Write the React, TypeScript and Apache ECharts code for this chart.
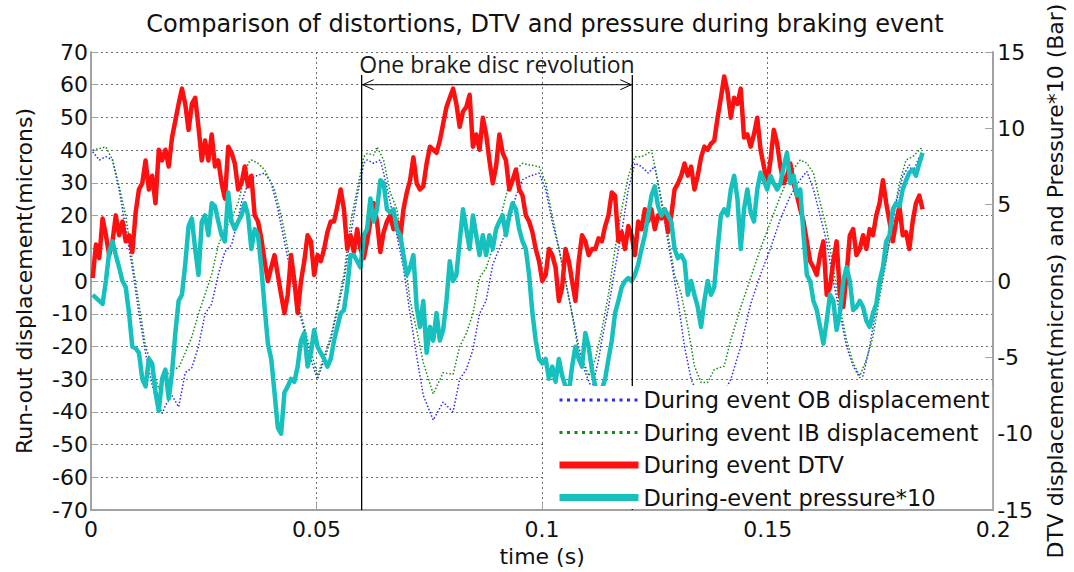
import { useEffect, useRef } from "react";
import * as echarts from "echarts";

// Sampling of the recorded channels: sample n is taken at T0 + n * DT seconds.
const T0 = 0.00037;
const DT = 0.000733;

const X_TICKS = { min: 0, max: 0.2, interval: 0.05 };
const LEFT_TICKS = { min: -70, max: 70, interval: 10 };
const RIGHT_TICKS = { min: -15, max: 15, interval: 5 };

const SERIES_NAMES = [
  "During event OB displacement",
  "During event IB displacement",
  "During event DTV",
  "During-event pressure*10",
];

// Outboard run-out displacement (microns): [sample index, value]
const OB_SAMPLES: [number, number][] = [
  [0, 39.5], [2, 37], [4, 38], [6, 37], [8, 28], [10, 16], [12, 4], [14, -10], [16, -22], [18, -32],
  [21, -40.5], [22, -38], [24, -35], [26, -38.5], [28, -28], [30, -26.5], [32, -20], [34, -10], [36, -7],
  [38, 2], [40, 9], [42, 11], [44, 19], [45, 24], [47, 30], [49, 32], [52, 33], [54, 30], [56, 22],
  [58, 12], [60, 2], [62, -8], [64, -15], [66, -24], [68, -30], [70, -24], [72, -18], [74, -9], [76, 0],
  [78, 14], [80, 26], [82, 36], [83, 37], [85, 36], [87, 37], [88, 33], [90, 24], [92, 14], [94, 4],
  [96, -10], [98, -23], [100, -35], [103, -42.5], [106, -37], [109, -40], [111, -30], [113, -27],
  [115, -21], [117, -10], [119, -6], [121, 5], [123, 10], [126, 18], [128, 26], [130, 31], [132, 32],
  [135, 33], [137, 28], [139, 18], [141, 10], [143, 0], [145, -10], [147, -20], [149, -28], [151, -33],
  [153, -24], [154, -18], [156, -8], [158, 4], [160, 15], [162, 28], [164, 36], [166, 35], [168, 33],
  [170, 35], [171, 30], [173, 18], [175, 6], [177, -6], [179, -20], [181, -30], [184, -37], [188, -38],
  [191, -34], [193, -30], [196, -20], [199, -7], [202, 2], [205, 10], [208, 19], [211, 26], [214, 31],
  [216, 33.5], [218, 28], [220, 20], [222, 12], [224, 0], [226, -10], [228, -20], [230, -26],
  [232, -29.5], [233, -29], [235, -20], [237, -8], [239, 2], [241, 12], [243, 24], [245, 32],
  [247, 35.5], [248, 33], [250, 38],
];

// Inboard run-out displacement (microns): [sample index, value]
const IB_SAMPLES: [number, number][] = [
  [0, 40], [2, 40.5], [4, 41], [6, 37], [8, 29], [10, 20], [12, 6], [14, -7], [16, -20], [18, -26],
  [20, -33], [22, -29], [24, -27], [26, -26.5], [28, -22], [30, -17], [32, -10], [34, -4], [36, 2],
  [38, 11], [40, 16], [42, 19], [44, 24], [46, 32], [47, 36], [48, 37], [50, 36], [52, 34], [54, 30],
  [55, 28], [57, 20], [59, 10], [61, 0], [63, -10], [65, -18], [67, -25], [68, -29], [70, -23],
  [72, -17], [74, -8], [76, 2], [78, 18], [80, 28], [82, 38], [83, 39], [85, 38.5], [86, 41], [88, 37],
  [90, 27], [92, 22], [94, 10], [96, -6], [98, -15], [100, -25], [103, -34.5], [106, -28], [109, -28.5],
  [111, -20], [113, -16], [115, -10], [117, 1], [119, 4], [121, 10], [124, 22], [126, 30], [128, 34],
  [130, 36], [132, 35.5], [135, 35], [137, 30], [139, 20], [141, 10], [143, 0], [145, -10], [147, -22],
  [149, -26], [150, -29], [152, -24], [154, -15], [156, -4], [158, 10], [160, 22], [162, 32], [164, 38],
  [166, 38], [168, 39], [169, 40], [170, 35], [172, 25], [174, 14], [176, 2], [178, -4], [180, -14],
  [182, -26], [184, -31], [186, -31], [188, -27], [191, -26], [193, -18], [196, -8], [199, 1], [202, 10],
  [205, 18], [208, 26], [211, 33], [214, 37], [216, 36], [218, 33], [220, 24], [222, 16], [224, 4],
  [226, -8], [228, -18], [230, -25], [232, -29], [234, -24], [236, -17], [238, -5], [240, 6], [242, 19],
  [244, 30], [246, 37], [248, 38], [251, 41],
];

// Disc thickness variation (microns), one value per sample
const DTV_VALUES: number[] = [
  0.2, 2.4, 1.5, 4.1, 3.0, 1.7, 2.6, 4.3, 3.0, 3.9,
  2.6, 3.0, 1.9, 4.5, 6.0, 6.4, 7.9, 6.0, 6.9, 5.1,
  8.6, 7.9, 8.6, 7.5, 9.4, 10.5, 11.6, 12.6, 11.6, 9.9,
  11.6, 12.0, 10.1, 7.9, 9.2, 7.9, 9.6, 7.5, 7.9, 6.4,
  5.4, 8.8, 8.4, 7.7, 6.0, 6.4, 7.5, 6.2, 6.9, 4.3,
  3.9, 2.8, 1.3, 0, 0.9, 1.7, 0.4, -0.9, -2.1, -0.9,
  1.7, 0, -2.1, 0, 1.3, 3.0, 2.6, 0.4, 1.7, 1.3,
  2.1, 3.2, 3.9, 3.9, 4.9, 6.0, 4.7, 2.1, 3.0, 1.9,
  3.4, 2.1, 1.5, 2.6, 3.9, 5.1, 3.9, 1.9, 3.2, 3.9,
  4.3, 3.4, 3.9, 2.8, 4.7, 5.8, 6.6, 8.1, 6.4, 6.0,
  6.2, 7.7, 8.8, 8.6, 8.4, 9.2, 10.3, 11.4, 12.0, 12.6,
  11.6, 10.1, 11.1, 11.4, 12.2, 8.8, 9.6, 8.6, 10.7, 9.6,
  7.9, 6.4, 7.5, 9.6, 8.4, 7.9, 6.0, 6.6, 7.3, 6.0,
  5.6, 4.3, 3.9, 3.2, 2.1, 1.3, 0, 0.4, 2.1, 1.7,
  0.9, -1.3, -0.4, 2.1, 1.3, 0, -1.3, 1.3, 3.0, 2.6,
  1.7, 2.1, 2.1, 2.8, 2.6, 3.6, 4.3, 5.8, 5.6, 2.6,
  3.2, 2.1, 3.6, 3.0, 1.7, 3.9, 3.4, 4.7, 3.9, 4.7,
  3.4, 4.3, 4.1, 4.7, 3.2, 4.3, 6.0, 6.4, 6.9, 7.7,
  6.9, 7.5, 6.0, 6.9, 8.1, 8.8, 8.6, 9.0, 9.2, 10.7,
  12.0, 13.4, 12.4, 10.7, 12.0, 11.6, 12.6, 9.4, 9.6, 8.8,
  9.6, 10.7, 8.6, 7.5, 6.4, 7.9, 9.9, 9.0, 7.5, 6.4,
  6.9, 7.7, 6.4, 5.6, 4.7, 3.9, 2.6, 1.3, 0.9, 0.4,
  1.7, 2.6, -0.9, -0.4, 1.3, 2.6, -0.9, -1.7, 0.4, 3.0,
  3.4, 1.7, 2.1, 3.0, 2.1, 3.4, 3.0, 4.3, 5.1, 6.6,
  5.1, 3.9, 2.6, 3.9, 4.9, 3.0, 3.2, 2.1, 3.9, 5.1,
  5.6, 4.7,
];

// Brake line pressure x10 (bar), one value per sample
const PRESSURE_X10: number[] = [
  -0.9, -1.1, -1.3, -1.5, 0, 1.9, 2.6, 1.7, 0.9, 0,
  -0.4, -2.1, -4.3, -4.4, -4.7, -6.4, -6.9, -5.1, -5.4, -7.3,
  -8.5, -6.4, -5.8, -7.7, -6.0, -3.4, -1.3, -0.9, 1.1, 3.6,
  4.1, 2.1, 0.4, 3.9, 4.3, 3.0, 5.1, 4.9, 3.9, 3.0,
  2.6, 5.8, 3.9, 3.4, 3.9, 4.3, 5.1, 4.3, 2.1, 3.4,
  3.0, 0.9, -1.7, -4.1, -5.1, -7.3, -9.6, -10.0, -7.3, -6.9,
  -6.4, -6.6, -5.6, -3.9, -3.4, -5.6, -4.7, -3.2, -4.3, -4.7,
  -5.1, -5.6, -5.1, -3.9, -3.0, -2.1, -1.9, -0.4, 1.7, 1.7,
  1.3, 0.9, 3.0, 3.4, 5.4, 3.9, 4.7, 6.6, 6.4, 4.7,
  4.5, 4.7, 3.4, 3.0, 1.7, 0.4, 0.9, 1.7, -1.7, -3.0,
  -1.3, -4.7, -3.0, -3.9, -2.1, -3.9, -3.2, -1.3, 1.3, 0,
  0.4, 2.6, 4.7, 3.4, 2.1, 4.3, 3.0, 1.7, 3.0, 1.7,
  3.0, 2.1, 3.4, 3.9, 4.3, 3.0, 4.3, 5.1, 4.7, 3.4,
  2.6, 2.1, 0.4, -2.1, -3.9, -5.1, -5.4, -5.1, -6.4, -5.6,
  -6.6, -5.1, -6.2, -6.9, -7.3, -5.6, -4.3, -5.1, -5.6, -3.4,
  -4.3, -5.8, -6.9, -7.3, -7.1, -6.4, -5.1, -3.9, -2.1, -1.3,
  -0.4, 0, 0.2, 0, 0.4, 1.1, 2.1, 3.0, 4.3, 5.6,
  6.2, 4.9, 4.3, 4.7, 4.3, 3.9, 2.1, 1.5, 1.7, 1.3,
  -0.9, 0, -0.9, -1.7, -3.0, -1.3, 0, -0.9, -0.4, 2.1,
  4.3, 4.7, 4.3, 6.0, 6.9, 5.4, 2.1, 4.7, 6.0, 4.5,
  3.9, 6.0, 7.1, 6.6, 6.0, 6.9, 6.4, 6.0, 6.4, 7.5,
  8.4, 6.4, 6.9, 5.6, 6.0, 3.0, 0.4, 0, -1.3, -1.9,
  -3.0, -4.1, -2.6, -0.9, -1.3, -3.2, -2.1, 0, 0.9, 0,
  -1.9, -1.7, -1.3, -1.7, -2.6, -3.0, -2.1, -1.5, 0, 0.9,
  2.6, 3.0, 4.7, 5.1, 4.9, 6.0, 6.6, 7.1, 7.3, 6.9,
  7.7, 8.4,
];

// One brake disc revolution, marked between these two instants
const REV_START = 0.06;
const REV_END = 0.12;
const REV_LABEL = "One brake disc revolution";
const ARROW_LEVEL = 60;
const MARKER_TOP = 63;

const TITLE = "Comparison of distortions, DTV and pressure during braking event";
const FONT = "'DejaVu Sans', 'Liberation Sans', Arial, sans-serif";
const AXIS_GREY = "#a2a2a2";
const GRID_GREY = "#6e6e6e";

const toTime = (n: number) => T0 + n * DT;

export default function App() {
  const ref = useRef<HTMLDivElement>(null);

  useEffect(() => {
    const el = ref.current;
    if (!el) return;
    const chart = echarts.init(el, null, { renderer: "svg" });

    const obData = OB_SAMPLES.map(([n, v]) => [toTime(n), v]);
    const ibData = IB_SAMPLES.map(([n, v]) => [toTime(n), v]);
    const dtvData = DTV_VALUES.map((v, n) => [toTime(n), v]);
    const presData = PRESSURE_X10.map((v, n) => [toTime(n), v]);

    const labelStyle = { fontFamily: FONT, fontSize: 22, color: "#111" };
    const hiddenMarker = { opacity: 0, borderWidth: 0 };

    chart.setOption({
      animation: false,
      backgroundColor: "#ffffff",
      grid: { left: 91, right: 74, top: 52, bottom: 54.5, containLabel: false },
      xAxis: {
        type: "value",
        ...X_TICKS,
        name: "time (s)",
        nameLocation: "middle",
        nameGap: 27,
        nameTextStyle: labelStyle,
        axisLine: { show: true, onZero: false, lineStyle: { color: AXIS_GREY, width: 2 } },
        axisTick: { show: true, inside: true, length: 7, lineStyle: { color: AXIS_GREY } },
        axisLabel: { ...labelStyle, margin: 8 },
        splitLine: { show: true, lineStyle: { color: GRID_GREY, width: 1, type: [2, 3] } },
      },
      yAxis: [
        {
          type: "value",
          position: "left",
          ...LEFT_TICKS,
          name: "Run-out displacement(microns)",
          nameLocation: "middle",
          nameRotate: 90,
          nameGap: 56,
          nameTextStyle: labelStyle,
          axisLine: { show: true, onZero: false, lineStyle: { color: AXIS_GREY, width: 2 } },
          axisTick: { show: true, inside: true, length: 7, lineStyle: { color: AXIS_GREY } },
          axisLabel: { ...labelStyle, margin: 3 },
          splitLine: { show: true, lineStyle: { color: GRID_GREY, width: 1, type: [2, 3] } },
        },
        {
          type: "value",
          position: "right",
          ...RIGHT_TICKS,
          name: "DTV displacement(microns) and Pressure*10 (Bar)",
          nameLocation: "middle",
          nameRotate: 90,
          nameGap: 48,
          nameTextStyle: labelStyle,
          axisLine: { show: true, onZero: false, lineStyle: { color: AXIS_GREY, width: 2 } },
          axisTick: { show: true, inside: true, length: 8, lineStyle: { color: AXIS_GREY } },
          axisLabel: { ...labelStyle, margin: 4 },
          splitLine: { show: false },
        },
      ],
      legend: {
        orient: "vertical",
        left: 543,
        top: 386,
        padding: [2, 6, 6, 13],
        itemWidth: 79,
        itemHeight: 14,
        itemGap: 8.5,
        selectedMode: false,
        textStyle: { fontFamily: FONT, fontSize: 22.5, color: "#111", lineHeight: 24 },
        data: [
          { name: SERIES_NAMES[0], itemStyle: hiddenMarker, lineStyle: { width: 3, type: [3, 4.5] } },
          { name: SERIES_NAMES[1], itemStyle: hiddenMarker, lineStyle: { width: 3, type: [3, 4.5] } },
          { name: SERIES_NAMES[2], itemStyle: hiddenMarker, lineStyle: { width: 7 } },
          { name: SERIES_NAMES[3], itemStyle: hiddenMarker, lineStyle: { width: 7 } },
        ],
      },
      series: [
        {
          name: SERIES_NAMES[0],
          type: "line",
          yAxisIndex: 0,
          data: obData,
          symbol: "none",
          showSymbol: false,
          color: "#2a2aff",
          lineStyle: { color: "#2a2aff", width: 1.5, type: [1.5, 2] },
          z: 2,
        },
        {
          name: SERIES_NAMES[1],
          type: "line",
          yAxisIndex: 0,
          data: ibData,
          symbol: "none",
          showSymbol: false,
          color: "#138a13",
          lineStyle: { color: "#138a13", width: 1.5, type: [1.5, 2] },
          z: 2,
        },
        {
          name: SERIES_NAMES[2],
          type: "line",
          yAxisIndex: 1,
          data: dtvData,
          symbol: "none",
          showSymbol: false,
          color: "#ff1010",
          lineStyle: { color: "#ff1010", width: 4.5, join: "round" },
          z: 2,
        },
        {
          name: SERIES_NAMES[3],
          type: "line",
          yAxisIndex: 1,
          data: presData,
          symbol: "none",
          showSymbol: false,
          color: "#16c0bd",
          lineStyle: { color: "#16c0bd", width: 4.5, join: "round" },
          z: 2,
        },
      ],
    });

    // Revolution marker, legend backdrop and title, placed from the axis scales
    const toPx = (t: number, v: number) =>
      chart.convertToPixel({ xAxisIndex: 0, yAxisIndex: 0 }, [t, v]) as number[];
    const [xs, yTop] = toPx(REV_START, MARKER_TOP);
    const [xe] = toPx(REV_END, MARKER_TOP);
    const [, yArrow] = toPx(REV_START, ARROW_LEVEL);
    const [xRight, yBottom] = toPx(X_TICKS.max, LEFT_TICKS.min);
    const legendBoxLeft = 543;
    const legendBoxTop = 386;
    const black = { stroke: "#000", lineWidth: 1.3 };

    chart.setOption({
      graphic: [
        {
          type: "text",
          x: 545,
          y: 24,
          z: 5,
          style: {
            text: TITLE,
            fontFamily: FONT,
            fontSize: 24,
            fill: "#111",
            align: "center",
            verticalAlign: "middle",
          },
        },
        { type: "line", z: 3, z2: 1, shape: { x1: xs, y1: yTop, x2: xs, y2: yBottom }, style: black },
        { type: "line", z: 3, z2: 1, shape: { x1: xe, y1: yTop, x2: xe, y2: yBottom }, style: black },
        {
          type: "line",
          z: 3,
          z2: 1,
          shape: { x1: xs, y1: yArrow, x2: xe, y2: yArrow },
          style: { stroke: "#000", lineWidth: 1 },
        },
        {
          type: "polyline",
          z: 3,
          z2: 1,
          shape: { points: [[xs + 12, yArrow - 5], [xs + 1, yArrow], [xs + 12, yArrow + 5]] },
          style: { stroke: "#000", lineWidth: 1, fill: "none" },
        },
        {
          type: "polyline",
          z: 3,
          z2: 1,
          shape: { points: [[xe - 12, yArrow - 5], [xe - 1, yArrow], [xe - 12, yArrow + 5]] },
          style: { stroke: "#000", lineWidth: 1, fill: "none" },
        },
        {
          type: "text",
          x: (xs + xe) / 2,
          y: yArrow - 21,
          z: 3,
          style: {
            text: REV_LABEL,
            fontFamily: "'Open Sans', 'Noto Sans', sans-serif",
            fontSize: 23,
            fill: "#1a1a1a",
            align: "center",
            verticalAlign: "middle",
          },
        },
        {
          type: "rect",
          z: 3,
          z2: 5,
          shape: {
            x: legendBoxLeft,
            y: legendBoxTop,
            width: xRight - legendBoxLeft - 1,
            height: yBottom - legendBoxTop - 1,
          },
          style: { fill: "#ffffff" },
        },
      ],
    });

    return () => chart.dispose();
  }, []);

  return (
    <div
      ref={ref}
      style={{ position: "absolute", left: 0, top: 0, width: 1074, height: 572, background: "#fff" }}
    />
  );
}
